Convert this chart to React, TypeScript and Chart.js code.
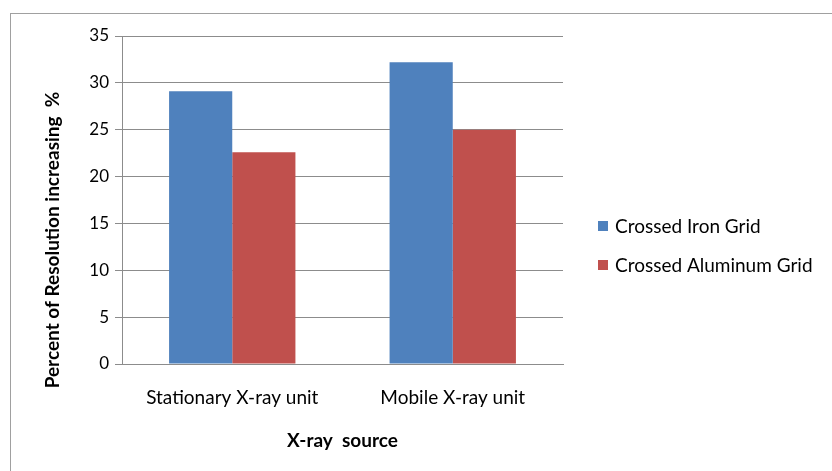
import React, { useEffect, useRef } from "react";
import { Chart, registerables } from "chart.js";

Chart.register(...registerables);

const categories = ["Stationary X-ray unit", "Mobile X-ray unit"];
const ironValues = [29.1, 32.2];
const aluminumValues = [22.6, 25.0];
const seriesLabels = ["Crossed Iron Grid", "Crossed Aluminum Grid"];
const seriesColors = ["#4F81BD", "#C0504D"];
const yTicks = [0, 5, 10, 15, 20, 25, 30, 35];
const yTitle = "Percent of Resolution increasing  %";
const xTitle = "X-ray  source";

const FONT = "Lato, 'Open Sans', sans-serif";

export default function App() {
  const ref = useRef<HTMLCanvasElement | null>(null);

  useEffect(() => {
    if (!ref.current) return;
    const overlay = {
      id: "overlay",
      afterDraw(chart: any) {
        const ctx = chart.ctx;
        const area = chart.chartArea;
        ctx.save();
        // outer border
        ctx.strokeStyle = "#A0A0A0";
        ctx.lineWidth = 1;
        ctx.strokeRect(10.5, 13.5, 900, 500);
        // y title
        ctx.fillStyle = "#000";
        ctx.font = "bold 19px " + FONT;
        ctx.textAlign = "center";
        ctx.textBaseline = "middle";
        ctx.save();
        ctx.translate(53, 240);
        ctx.rotate(-Math.PI / 2);
        ctx.fillText(yTitle, 0, 0);
        ctx.restore();
        // x title
        ctx.fillText(xTitle, (area.left + area.right) / 2, 441);
        // legend
        ctx.font = "19px " + FONT;
        ctx.textAlign = "left";
        const ys = [226, 265];
        chart.data.datasets.forEach((ds: any, i: number) => {
          ctx.fillStyle = ds.backgroundColor;
          ctx.fillRect(598, ys[i] - 5, 10, 10);
          ctx.fillStyle = "#000";
          ctx.fillText(ds.label, 615, ys[i] + 1);
        });
        ctx.restore();
      },
    };

    const chart = new Chart(ref.current, {
      type: "bar",
      data: {
        labels: categories,
        datasets: [
          { label: seriesLabels[0], data: ironValues, backgroundColor: seriesColors[0], borderWidth: 0 },
          { label: seriesLabels[1], data: aluminumValues, backgroundColor: seriesColors[1], borderWidth: 0 },
        ],
      },
      options: {
        animation: false,
        responsive: false,
        devicePixelRatio: 1,
        layout: { padding: { left: 0, top: 36, right: 269, bottom: 0 } },
        plugins: { legend: { display: false }, tooltip: { enabled: false } },
        datasets: { bar: { categoryPercentage: 0.573, barPercentage: 1 } },
        scales: {
          x: {
            grid: { display: false, drawTicks: false },
            border: { color: "#8C8C8C", width: 1 },
            ticks: { color: "#000", font: { family: FONT, size: 19 }, padding: 22 },
            afterFit(scale: any) {
              scale.height = 471 - 364;
            },
          },
          y: {
            min: 0,
            max: 35,
            afterBuildTicks(scale: any) {
              scale.ticks = yTicks.map((v) => ({ value: v }));
            },
            grid: { color: "#8C8C8C", tickLength: 7, drawTicks: true },
            border: { color: "#8C8C8C", width: 1 },
            ticks: { color: "#000", font: { family: FONT, size: 17 }, padding: 6 },
            afterFit(scale: any) {
              scale.width = 122;
            },
          },
        },
      },
      plugins: [overlay],
    });
    return () => chart.destroy();
  }, []);

  return (
    <div style={{ position: "fixed", left: 0, top: 0, width: 832, height: 471, background: "#fff" }}>
      <canvas ref={ref} width={832} height={471} style={{ display: "block" }} />
    </div>
  );
}
